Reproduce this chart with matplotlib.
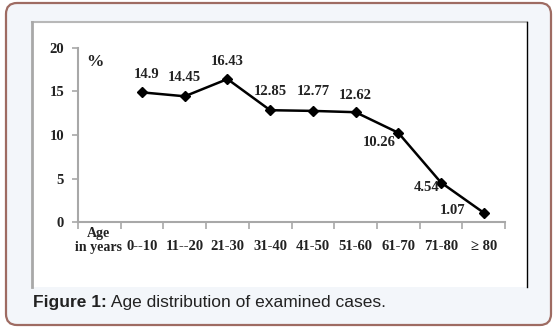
import matplotlib
matplotlib.use('Agg')
import matplotlib.pyplot as plt
from matplotlib.patches import FancyBboxPatch, Rectangle

# dados
categorias = ['0--10', '11--20', '21-30', '31-40', '41-50', '51-60', '61-70', '71-80', '\u2265 80']
valores = [14.9, 14.45, 16.43, 12.85, 12.77, 12.62, 10.26, 4.54, 1.07]
rotulos = ['14.9', '14.45', '16.43', '12.85', '12.77', '12.62', '10.26', '4.54', '1.07']
yticks = [0, 5, 10, 15, 20]

# deslocamento dos rótulos (pixels)
offsets = [(5, 18), (0, 19), (0, 18), (0, 19), (0, 19), (0, 17), (-19, -10), (-14, -5), (-31, 2)]

W, H = 556, 328
fig = plt.figure(figsize=(W / 100, H / 100), dpi=100, facecolor='white')

# fundo / moldura em pixels
bg = fig.add_axes([0, 0, 1, 1])
bg.set_xlim(0, W)
bg.set_ylim(H, 0)
bg.axis('off')
bg.add_patch(FancyBboxPatch((6, 3), 545, 322, boxstyle='round,pad=0,rounding_size=11',
                            facecolor='#f3f6fa', edgecolor='#9e6b62', linewidth=1.6))
bg.add_patch(Rectangle((32, 22), 495, 265, facecolor='white', edgecolor='none'))
bg.plot([32, 527], [22, 22], color='#b8b8b8', lw=1.5)
bg.plot([32, 32], [22, 287], color='#a8a8a8', lw=2)
bg.plot([527, 527], [22, 287], color='black', lw=1)

serif = 'Liberation Serif'
t1 = bg.text(33, 303, 'Figure 1:', fontsize=12.5, fontweight='bold', family='Liberation Sans',
             color='#222222', va='center', ha='left')
bg.annotate(' Age distribution of examined cases.', xy=(1, 0), xycoords=t1, va='bottom', ha='left',
            fontsize=12.5, family='Liberation Sans', color='#222222')

# eixo do gráfico
ax = fig.add_axes([78 / W, (H - 222) / H, 427 / W, 174 / H])
ax.patch.set_visible(False)
x = list(range(1, len(categorias) + 1))
ax.plot(x, valores, color='black', lw=1.8, marker='D', markersize=5)

for xi, v, r, (dx, dy) in zip(x, valores, rotulos, offsets):
    ax.annotate(r, (xi, v), xytext=(dx, dy), textcoords='offset pixels', ha='center', va='center',
                fontsize=10.5, fontweight='bold', family=serif, color='#222222')

ax.set_xlim(-0.5, 9.5)
ax.set_ylim(0, 20)
ax.set_yticks(yticks)
ax.set_yticklabels([str(t) for t in yticks], fontsize=10.5, fontweight='bold', family=serif)
ax.set_xticks(x)
ax.set_xticklabels(categorias, fontsize=10.5, fontweight='bold', family=serif)
ax.set_xticks([i - 0.5 for i in range(11)], minor=True)
ax.tick_params(axis='x', which='major', length=0, pad=13, colors='#222222')
ax.tick_params(axis='x', which='minor', length=5, color='#a8a8a8', width=1.2)
ax.tick_params(axis='y', length=4, color='#a8a8a8', width=1.2, pad=6, labelcolor='#222222')
for s in ['top', 'right']:
    ax.spines[s].set_visible(False)
for s in ['left', 'bottom']:
    ax.spines[s].set_color('#a8a8a8')
    ax.spines[s].set_linewidth(1.5)

ax.text(-0.03, -2.07, 'Age\nin years', ha='center', va='center', fontsize=10, fontweight='bold',
        family=serif, color='#222222', linespacing=1.1, clip_on=False)
ax.text(-0.1, 18.4, '%', ha='center', va='center', fontsize=12.5, fontweight='bold',
        family=serif, color='#222222')

fig.savefig('out.png', dpi=100)
